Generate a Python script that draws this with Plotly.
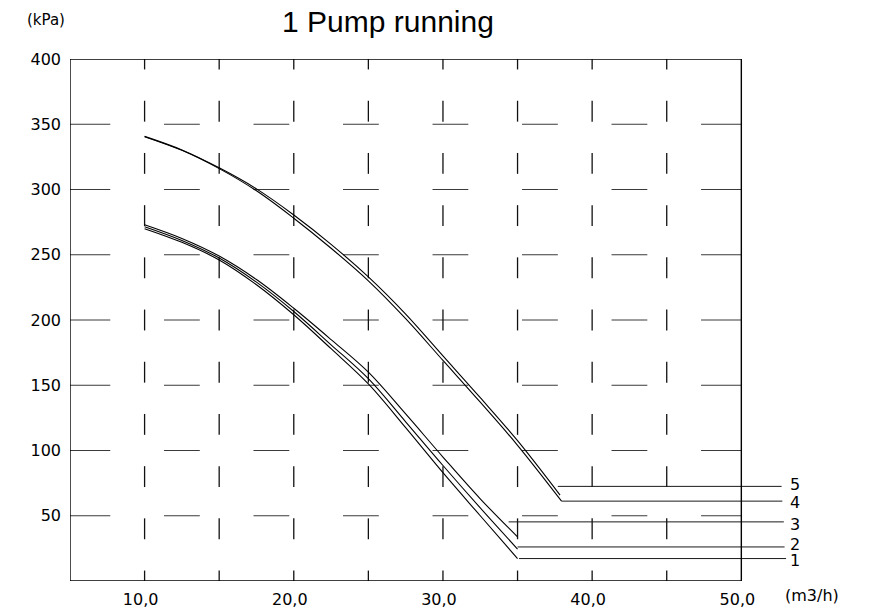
import plotly.graph_objects as go

# ---------------- data ----------------
flow_low = [10, 12.5, 15, 17.5, 20, 22.5, 25, 27.5, 30, 32.5, 35]
head_1 = [270, 259.5, 246, 227, 204, 178, 151, 117.5, 83, 50, 17.2]
head_2 = [271.5, 261, 247.5, 229, 206.5, 181, 155, 122, 88.5, 56, 24.5]
head_3 = [273, 262.5, 249, 231, 209, 185, 160, 128, 95, 63, 33.8]

flow_4 = [10, 12.5, 15, 17.5, 20, 22.5, 25, 27.5, 30, 32.5, 35, 37.95]
head_4 = [340.5, 330, 316, 299, 278, 255, 230, 201, 169, 137, 104, 61.2]
flow_5 = [10, 12.5, 15, 17.5, 20, 22.5, 25, 27.5, 30, 32.5, 35, 37.85]
head_5 = [340.7, 330.3, 316.6, 300.5, 280.5, 258, 233, 204.5, 172.5, 140.5, 107.5, 65.8]

curve_names = ["1", "2", "3", "4", "5"]
label_y = [17.2, 26.1, 45.3, 61.2, 72.5]
label_x_start = [35.1, 35.0, 34.4, 37.95, 37.7]
label_x_end = [53.0, 52.9, 52.85, 52.75, 52.7]
label_text_y = [16.0, 28.0, 43.5, 59.8, 73.6]

x_tickvals = [10, 20, 30, 40, 50]
x_ticktext = ["10,0", "20,0", "30,0", "40,0", "50,0"]
y_tickvals = [50, 100, 150, 200, 250, 300, 350, 400]
y_ticktext = ["50", "100", "150", "200", "250", "300", "350", "400"]

grid_flow = [10, 15, 20, 25, 30, 35, 40, 45]
grid_head = [50, 100, 150, 200, 250, 300, 350]

X_MIN, X_MAX, X_FRAME = 5, 54, 50
Y_MIN, Y_MAX = 0, 400

fig = go.Figure()

# ---------------- dashed grid ----------------
h_centers = [6.5 + 6 * k for k in range(8)]
hx, hy = [], []
for g in grid_head:
    for i, c in enumerate(h_centers):
        a = X_MIN if i == 0 else c - 1.2
        b = X_FRAME if i == len(h_centers) - 1 else c + 1.2
        hx += [a, b, None]
        hy += [g, g, None]
fig.add_trace(go.Scatter(x=hx, y=hy, mode="lines",
                         line=dict(color="#3a3a3a", width=1),
                         hoverinfo="skip", showlegend=False))

v_centers = list(range(0, 401, 40))
vx, vy = [], []
for g in grid_flow:
    for c in v_centers:
        a = max(Y_MIN, c - 8)
        b = min(Y_MAX, c + 8)
        vx += [g, g, None]
        vy += [a, b, None]
fig.add_trace(go.Scatter(x=vx, y=vy, mode="lines",
                         line=dict(color="#111111", width=1.3),
                         hoverinfo="skip", showlegend=False))

# ---------------- pump curves ----------------
curves = [(flow_low, head_1), (flow_low, head_2), (flow_low, head_3),
          (flow_4, head_4), (flow_5, head_5)]
for name, (xs, ys) in zip(curve_names, curves):
    fig.add_trace(go.Scatter(x=xs, y=ys, mode="lines", name=name,
                             line=dict(color="black", width=1.1,
                                       shape="spline", smoothing=1.0),
                             hoverinfo="skip", showlegend=False))

for name, x0, x1, yv in zip(curve_names, label_x_start, label_x_end, label_y):
    fig.add_trace(go.Scatter(x=[x0, x1], y=[yv, yv], mode="lines",
                             line=dict(color="#1a1a1a", width=1),
                             hoverinfo="skip", showlegend=False))

fig.add_shape(type="rect", xref="x", yref="y", x0=X_MIN, x1=X_FRAME,
              y0=Y_MIN, y1=Y_MAX, line=dict(color="black", width=1.4),
              layer="above")

for name, ty in zip(curve_names, label_text_y):
    fig.add_annotation(x=53.15, y=ty, xref="x", yref="y", text=name,
                       showarrow=False, xanchor="left", yanchor="middle",
                       font=dict(family="DejaVu Sans", size=16, color="black"))

fig.add_annotation(x=-0.033, y=1.0747, xref="paper", yref="paper",
                   text="(kPa)", showarrow=False, xanchor="center",
                   yanchor="middle",
                   font=dict(family="DejaVu Sans", size=15, color="black"))
fig.add_annotation(x=0.9754, y=-0.0287, xref="paper", yref="paper",
                   text="(m3/h)", showarrow=False, xanchor="left",
                   yanchor="middle",
                   font=dict(family="DejaVu Sans", size=16, color="black"))

# page body has an 8px default margin, so offsets are reduced by 8px
fig.update_layout(
    width=869, height=611,
    template="none",
    paper_bgcolor="white", plot_bgcolor="white",
    margin=dict(l=62, r=76, t=51, b=38, autoexpand=False),
    title=dict(text="1 Pump running", x=380 / 869, y=1 - 13 / 611,
               xref="container", yref="container",
               xanchor="center", yanchor="middle",
               font=dict(family="Liberation Sans", size=30, color="black")),
    showlegend=False,
    hovermode=False,
    xaxis=dict(range=[X_MIN, X_MAX], showgrid=False, zeroline=False,
               showline=False, ticks="", tickmode="array",
               tickvals=x_tickvals, ticktext=x_ticktext,
               ticklabelstandoff=7, ticklabelshift=-4,
               tickfont=dict(family="DejaVu Sans", size=16, color="black"),
               automargin=False, fixedrange=True),
    yaxis=dict(range=[Y_MIN, Y_MAX], showgrid=False, zeroline=False,
               showline=False, ticks="", tickmode="array",
               tickvals=y_tickvals, ticktext=y_ticktext,
               ticklabelstandoff=8,
               tickfont=dict(family="DejaVu Sans", size=16, color="black"),
               automargin=False, fixedrange=True),
)

fig.write_html("out.html")
